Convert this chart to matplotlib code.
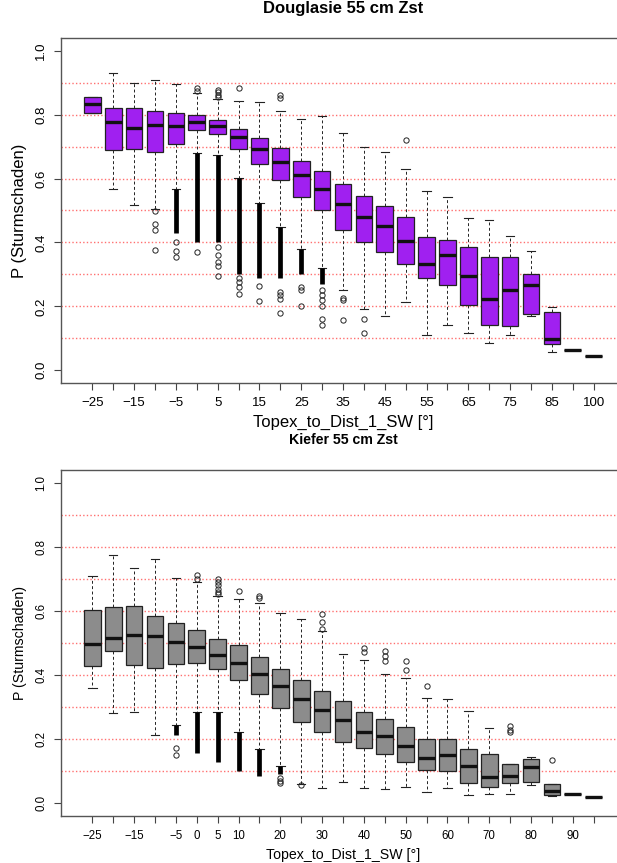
import numpy as np
import matplotlib
matplotlib.use("Agg")
from matplotlib import pyplot as plt

plt.rcParams['font.family'] = ['Liberation Sans', 'DejaVu Sans']

# categories (Topex_to_Dist_1_SW [deg])
topex = [-25, -20, -15, -10, -5, 0, 5, 10, 15, 20, 25, 30, 35, 40, 45,
         50, 55, 60, 65, 70, 75, 80, 85, 90, 100]

################################
# Douglasie 55 cm Zst (purple) #
################################
dou_whislo = [0.806, 0.566, 0.517, 0.504, 0.567, 0.681, 0.673, 0.603, 0.525, 0.449,
              0.379, 0.319, 0.252, 0.192, 0.169, 0.2125, 0.110, 0.142, 0.117, 0.085,
              0.111, 0.171, 0.058, 0.0625, 0.043]
dou_q1 = [0.806, 0.689, 0.692, 0.684, 0.709, 0.751, 0.741, 0.694, 0.646, 0.595,
          0.543, 0.501, 0.440, 0.400, 0.371, 0.333, 0.2875, 0.267, 0.205, 0.140,
          0.1375, 0.175, 0.082, 0.0625, 0.043]
dou_med = [0.832, 0.776, 0.759, 0.769, 0.766, 0.778, 0.765, 0.729, 0.692, 0.653,
           0.611, 0.568, 0.521, 0.481, 0.451, 0.406, 0.334, 0.360, 0.294, 0.223,
           0.251, 0.267, 0.099, 0.0625, 0.043]
dou_q3 = [0.856, 0.822, 0.820, 0.811, 0.805, 0.798, 0.784, 0.756, 0.727, 0.696,
          0.655, 0.623, 0.583, 0.544, 0.515, 0.479, 0.418, 0.409, 0.385, 0.354,
          0.355, 0.300, 0.183, 0.0625, 0.043]
dou_whishi = [0.856, 0.929, 0.900, 0.908, 0.895, 0.869, 0.850, 0.842, 0.840, 0.811,
              0.7875, 0.796, 0.742, 0.700, 0.683, 0.631, 0.561, 0.542, 0.475, 0.469,
              0.419, 0.374, 0.199, 0.0625, 0.043]
dou_fliers = [[], [], [], [0.499, 0.457, 0.438, 0.377],
              [0.402, 0.374, 0.353],
              [0.875, 0.885, 0.369],
              [0.855, 0.862, 0.870, 0.878, 0.385, 0.36, 0.34, 0.325, 0.296],
              [0.884, 0.29, 0.275, 0.26, 0.2375],
              [0.2625, 0.217],
              [0.86, 0.853, 0.244, 0.235, 0.223, 0.178],
              [0.262, 0.25, 0.2],
              [0.25, 0.235, 0.22, 0.2, 0.16, 0.142],
              [0.225, 0.221, 0.157],
              [0.16, 0.117],
              [], [0.721], [], [], [], [], [], [], [], [], []]
# dense runs of outliers (drawn as a solid column), None = no run
dou_dense = [None, None, None, None, (0.43, 0.567), (0.40, 0.681), (0.40, 0.673),
             (0.30, 0.603), (0.29, 0.525), (0.29, 0.449), (0.30, 0.379), (0.27, 0.319),
             None, None, None, None, None, None, None, None, None, None, None, None, None]

############################
# Kiefer 55 cm Zst (grey)  #
############################
kie_whislo = [0.358, 0.283, 0.286, 0.214, 0.245, 0.284, 0.284, 0.221, 0.169, 0.117,
              0.060, 0.046, 0.065, 0.047, 0.045, 0.052, 0.034, 0.047, 0.024, 0.028,
              0.030, 0.057, 0.022, 0.029, 0.020]
kie_q1 = [0.428, 0.474, 0.432, 0.422, 0.435, 0.438, 0.419, 0.384, 0.341, 0.296,
          0.254, 0.223, 0.192, 0.172, 0.153, 0.129, 0.104, 0.101, 0.064, 0.049,
          0.0615, 0.065, 0.024, 0.029, 0.020]
kie_med = [0.498, 0.516, 0.526, 0.523, 0.503, 0.488, 0.462, 0.439, 0.402, 0.365,
           0.324, 0.290, 0.259, 0.223, 0.2085, 0.178, 0.140, 0.149, 0.115, 0.081,
           0.0855, 0.113, 0.0375, 0.029, 0.020]
kie_q3 = [0.604, 0.612, 0.614, 0.584, 0.562, 0.541, 0.511, 0.495, 0.456, 0.419,
          0.386, 0.350, 0.318, 0.285, 0.262, 0.239, 0.200, 0.200, 0.170, 0.152,
          0.122, 0.138, 0.0605, 0.029, 0.020]
kie_whishi = [0.708, 0.776, 0.733, 0.761, 0.704, 0.691, 0.646, 0.636, 0.626, 0.595,
              0.575, 0.536, 0.467, 0.446, 0.4025, 0.390, 0.327, 0.325, 0.289, 0.235,
              0.122, 0.144, 0.0605, 0.029, 0.020]
kie_fliers = [[], [], [], [], [0.172, 0.149],
              [0.711, 0.701],
              [0.699, 0.690, 0.680, 0.670, 0.660, 0.652],
              [0.661],
              [0.647, 0.642],
              [0.08, 0.07, 0.063],
              [0.056],
              [0.591, 0.565, 0.543],
              [], [0.485, 0.471], [0.474, 0.459, 0.443], [0.443, 0.415], [0.367],
              [], [], [], [0.24, 0.23, 0.222], [], [0.1345], [], []]
kie_dense = [None, None, None, None, (0.214, 0.245), (0.158, 0.284), (0.13, 0.284),
             (0.099, 0.221), (0.0855, 0.169), (0.09, 0.117), None, None,
             None, None, None, None, None, None, None, None, None, None, None, None, None]

top_labels = [0, 2, 4, 6, 8, 10, 12, 14, 16, 18, 20, 22, 24]
bottom_labels = [0, 2, 4, 5, 6, 7, 9, 11, 13, 15, 17, 19, 21, 23]


def minus(v):
    return str(v).replace("-", "\u2212")


def boxpanel(ax, title, color, wlo, q1, med, q3, whi, fliers, dense, shown,
             tsize, lsize, ticksize):
    pos = np.arange(1, len(topex) + 1)
    for y in np.arange(0.1, 0.95, 0.1):
        ax.axhline(y, color="#ff7070", lw=1.0, ls=(0, (1, 1.6)), zorder=0)

    stats = []
    for i in range(len(topex)):
        stats.append(dict(med=med[i], q1=q1[i], q3=q3[i], whislo=wlo[i],
                          whishi=whi[i], fliers=fliers[i]))
    ax.bxp(stats, positions=pos, widths=0.8, capwidths=0.4, patch_artist=True,
           boxprops=dict(facecolor=color, edgecolor="#222222", lw=0.9),
           medianprops=dict(color="#111111", lw=2.4, solid_capstyle="butt"),
           whiskerprops=dict(color="#222222", lw=0.7, ls=(0, (3, 2.5))),
           capprops=dict(color="#222222", lw=0.8),
           flierprops=dict(marker="o", markersize=3.8, markerfacecolor="none",
                           markeredgecolor="#222222", markeredgewidth=0.7),
           zorder=2)
    for p, d in zip(pos, dense):
        if d is not None:
            ax.vlines(p, d[0], d[1], color="black", lw=3.4, zorder=3)

    ax.set_xlim(-0.5, 26.5)
    ax.set_ylim(-0.04, 1.04)
    ax.set_xticks(pos)
    ax.set_xticklabels([minus(topex[i]) if i in shown else "" for i in range(len(topex))],
                       fontsize=ticksize)
    ax.set_yticks([0.0, 0.2, 0.4, 0.6, 0.8, 1.0])
    ax.set_yticklabels(["0.0", "0.2", "0.4", "0.6", "0.8", "1.0"], fontsize=ticksize,
                       rotation=90, va="center")
    ax.tick_params(length=5, width=0.8, color="#444444", pad=5)
    for s in ax.spines.values():
        s.set_color("#555555")
        s.set_linewidth(1.0)
    ax.spines["right"].set_visible(False)
    ax.set_title(title, fontsize=tsize, fontweight="bold", y=1.04, va="bottom")
    ax.set_xlabel("Topex_to_Dist_1_SW [°]", fontsize=lsize)
    ax.set_ylabel("P (Sturmschaden)", fontsize=lsize)


fig = plt.figure(figsize=(6.17, 8.63), dpi=100)
ax1 = fig.add_axes([61 / 617, 480 / 863, 564 / 617, 345 / 863])
ax2 = fig.add_axes([61 / 617, 47 / 863, 564 / 617, 346 / 863])

boxpanel(ax1, "Douglasie 55 cm Zst", "#A020F0", dou_whislo, dou_q1, dou_med, dou_q3,
         dou_whishi, dou_fliers, dou_dense, top_labels, 12, 12, 9.5)
boxpanel(ax2, "Kiefer 55 cm Zst", "#8C8C8C", kie_whislo, kie_q1, kie_med, kie_q3,
         kie_whishi, kie_fliers, kie_dense, bottom_labels, 10.2, 10.2, 8.3)

ax1.xaxis.set_label_coords(0.5, -0.113)
ax1.xaxis.label.set_va("center")
ax1.yaxis.set_label_coords(-0.073, 0.5)
ax1.yaxis.label.set_va("center")
ax1.title.set_position((0.5, 1.061))
ax1.title.set_va("center")

ax2.xaxis.set_label_coords(0.5, -0.113)
ax2.xaxis.label.set_va("center")
ax2.yaxis.set_label_coords(-0.073, 0.5)
ax2.yaxis.label.set_va("center")
ax2.title.set_position((0.5, 1.064))
ax2.title.set_va("center")

fig.savefig("out.png", dpi=100)
